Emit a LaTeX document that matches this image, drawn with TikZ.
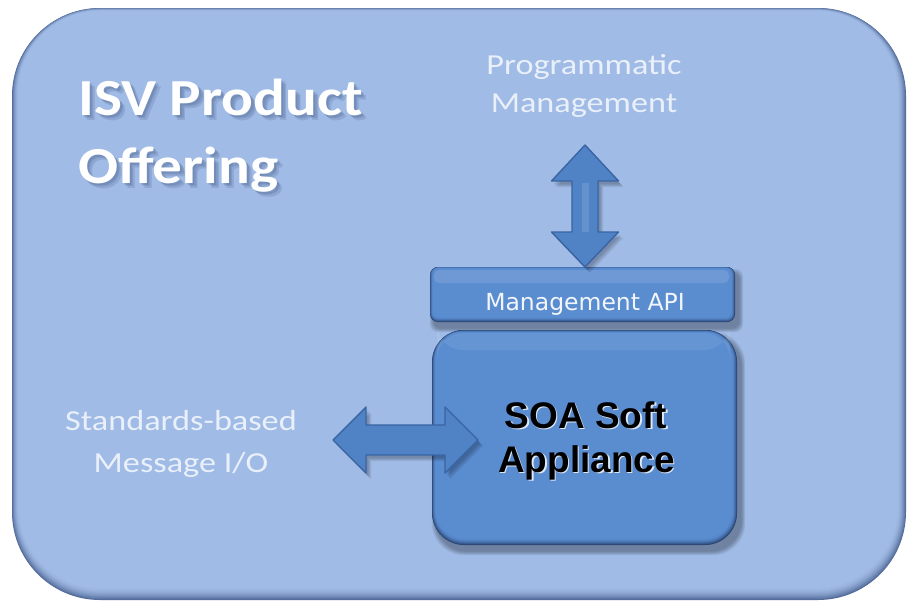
\documentclass[tikz,border=0pt]{standalone}
\usepackage{fontspec}
\setmainfont{Carlito}
\newfontfamily\titlefont{Carlito}[FakeStretch=1.14]
\newfontfamily\softfont{Carlito}[FakeStretch=1.18]
\newfontfamily\apifont{DejaVu Sans}
\newfontfamily\soafont{Liberation Sans}
\usetikzlibrary{calc}

\definecolor{panel}{HTML}{A0BBE5}
\definecolor{paneledge}{HTML}{526B9A}
\definecolor{boxfill}{HTML}{5A8CD0}
\definecolor{boxedge}{HTML}{27426F}
\definecolor{arrowfill}{HTML}{5082C6}
\definecolor{arrowline}{HTML}{3A64A2}
\definecolor{softtext}{HTML}{E9F0FA}
\definecolor{titleshade}{HTML}{3E5684}

% rounded rectangle with a bevelled rim: #1,#2 top left, #3,#4 bottom right,
% #5 corner radius, #6 rim colour, #7 face colour, #8 side rim, #9 bottom rim
\newcommand\bevelrect[9]{%
  \foreach \k in {0,...,14}{%
    \pgfmathsetmacro\f{\k/14}%
    \pgfmathsetmacro\p{100*(1-(1-\f)*(1-\f))}%
    \pgfmathsetmacro\xa{#1+0.8*#8*\f}%
    \pgfmathsetmacro\ya{#2+0.35*#8*\f}%
    \pgfmathsetmacro\xb{#3-#8*\f}%
    \pgfmathsetmacro\yb{#4-#9*\f}%
    \pgfmathsetmacro\rr{max(#5-0.8*#8*\f,1)}%
    \fill[#7!\p!#6, rounded corners=\rr pt] (\xa,\ya) rectangle (\xb,\yb);
  }}

% soft drop shadow below a rounded rectangle
\newcommand\softshadow[5]{%
  \foreach \k in {1,...,6}{%
    \fill[black, opacity=0.055, rounded corners=#5 pt]
      (#1+4-\k*0.7,#2+6-\k*0.7) rectangle (#3+4+\k*0.7,#4+6+\k*0.7);
  }}

\tikzset{
  softlabel/.style={text=softtext, inner sep=0pt, font=\softfont\fontsize{29}{38}\selectfont},
  titlelabel/.style={inner sep=0pt, font=\titlefont\bfseries\fontsize{52}{68}\selectfont},
  apilabel/.style={text=white!92!boxfill, inner sep=0pt, font=\apifont\fontsize{23.5}{27}\selectfont},
  soalabel/.style={inner sep=0pt, font=\soafont\bfseries\fontsize{37}{44}\selectfont},
  boxnode/.style={inner sep=0pt, outer sep=0pt},
  blockarrow/.style={fill=arrowfill, draw=arrowline, line width=1.4pt, line join=round},
  arrowshade/.style={fill=black, opacity=0.07},
}

% double-headed block arrows between named points
\newcommand\vertarrow[1]{%
  \path[#1] (vt) -- ++(33.5,36) -- ++(-20.5,0) -- ($(vb)+(13,-35)$) -- ++(20.5,0)
    -- (vb) -- ++(-33.5,-35) -- ++(20.5,0) -- ($(vt)+(-13,36)$) -- ++(-20.5,0) -- cycle;}
\newcommand\horizarrow[1]{%
  \path[#1] (lt) -- ++(33,-33) -- ++(0,18) -- ($(rt)+(-33,-15)$) -- ++(0,-18)
    -- (rt) -- ++(-33,33) -- ++(0,-18) -- ($(lt)+(33,15)$) -- ++(0,18) -- cycle;}

\begin{document}
\begin{tikzpicture}[x=1pt,y=-1pt]
\useasboundingbox (0,0) rectangle (907,605);
\fill[white] (0,0) rectangle (907,605);

% outer product panel
\bevelrect{12}{8}{906}{600}{88}{paneledge}{panel}{9}{13}

% title with a soft shadow
\foreach \dx/\dy in {2/2,3.5/3.5,5/5}{
  \node[titlelabel, text=titleshade, opacity=0.18, anchor=base west] at (78+\dx,115+\dy) {ISV Product};
  \node[titlelabel, text=titleshade, opacity=0.18, anchor=base west] at (78+\dx,183+\dy) {Offering};
}
\node[titlelabel, text=white, anchor=base west] (title1) at (78,115) {ISV Product};
\node[titlelabel, text=white, anchor=base west] (title2) at (78,183) {Offering};

% side labels
\node[softlabel, anchor=base] (pm1) at (584,74) {Programmatic};
\node[softlabel, anchor=base] (pm2) at (584,112) {Management};
\node[softlabel, anchor=base] (sm1) at (181,430) {Standards-based};
\node[softlabel, anchor=base] (sm2) at (181,472) {Message I/O};

% SOA soft appliance box
\softshadow{432}{330}{737}{545}{32}
\bevelrect{432}{330}{737}{545}{32}{boxedge}{boxfill}{5}{7}
\fill[white, opacity=0.08, rounded corners=26pt] (437,333) rectangle (730,350);
\node[boxnode, minimum width=305pt, minimum height=215pt] (soa) at (584.5,437.5) {};
\node[soalabel, text=white!80!boxfill, anchor=base] at (587.5,429.5) {SOA Soft};
\node[soalabel, text=white!80!boxfill, anchor=base] at (588,473.5) {Appliance};
\node[soalabel, text=black, anchor=base] (soa1) at (586,428) {SOA Soft};
\node[soalabel, text=black, anchor=base] (soa2) at (586.5,472) {Appliance};

% management API bar
\softshadow{430}{267}{735}{322}{8}
\bevelrect{430}{267}{735}{322}{8}{boxedge}{boxfill}{4}{5}
\fill[white, opacity=0.12, rounded corners=5pt] (434,270) rectangle (729,283);
\node[boxnode, minimum width=305pt, minimum height=55pt] (api) at (582.5,294.5) {};
\node[apilabel, anchor=base] (apitext) at (585,310) {Management API};

% arrow end points
\coordinate (vt) at (585,145);
\coordinate (vb) at (vt |- api.north);
\coordinate (lt) at (333,440);
\coordinate (rt) at (478,440);

% programmatic management arrow
\foreach \s in {2,3,4,5}{\vertarrow{arrowshade, transform canvas={shift={(\s,\s+1)}}}}
\vertarrow{blockarrow}
\draw[white, opacity=0.12, line width=7pt] (585,183) -- (585,232);

% message I/O arrow
\foreach \s in {2,3,4,5}{\horizarrow{arrowshade, transform canvas={shift={(\s,\s+1)}}}}
\horizarrow{blockarrow}
\end{tikzpicture}
\end{document}
